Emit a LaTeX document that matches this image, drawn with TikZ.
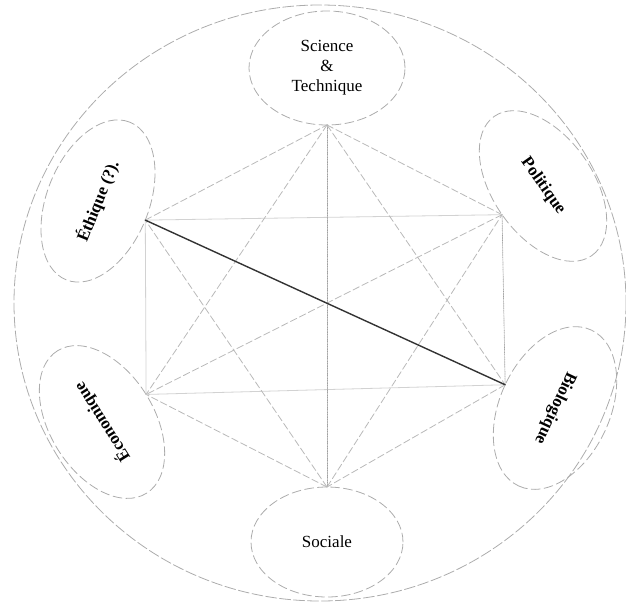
\documentclass[tikz,border=0pt]{standalone}
\usepackage{fontspec}
\setmainfont{Liberation Serif}
\usepackage{tikz}
\usetikzlibrary{arrows.meta,shapes.geometric}
\tikzset{
  every picture/.style={line join=round, line cap=round, >=Stealth},
  bulle/.style={ellipse, draw=gray!65, line width=0.8pt, dash pattern=on 9pt off 4pt,
    inner sep=0pt, outer sep=0pt, align=center, font=\fontsize{17}{20}\selectfont},
  bullegras/.style={bulle, font=\fontsize{17}{20}\selectfont\bfseries},
  lien/.style={gray!55, line width=0.8pt, dash pattern=on 7pt off 3pt},
  lienclair/.style={gray!35, line width=0.8pt},
  lienpoint/.style={gray!75, line width=0.7pt, densely dotted},
  lienfort/.style={black!80, line width=1.4pt},
}

\begin{document}
\begin{tikzpicture}[x=1pt,y=-1pt]
\useasboundingbox (0,0) rectangle (626,603);
% grand cercle
\draw[gray!65, line width=0.8pt, dash pattern=on 11pt off 3pt] (320,303) ellipse [x radius=306, y radius=298];
% les six domaines
\node[bulle, minimum width=156, minimum height=114] (sci) at (327,68) {Science\\\&\\Technique};
\node[bullegras, minimum width=170, minimum height=102, rotate=68] (eth) at (98,201) {Éthique (?).};
\node[bullegras, minimum width=170, minimum height=100, rotate=-55] (pol) at (543,186) {Politique};
\node[bullegras, minimum width=168, minimum height=104, rotate=122] (eco) at (102,422) {Économique};
\node[bullegras, minimum width=172, minimum height=110, rotate=-115] (bio) at (555,408) {Biologique};
\node[bulle, minimum width=152, minimum height=110] (soc) at (327,542) {Sociale};
% liens
\draw[lien] (sci.south)--(pol.south);
\draw[lienpoint] (pol.south)--(bio.south);
\draw[lien] (bio.south)--(soc.north);
\draw[lien] (soc.north)--(eco.south);
\draw[lienclair] (eco.south)--(eth.south);
\draw[lien] (eth.south)--(sci.south);
\draw[lienclair] (eth.south)--(pol.south);
\draw[lienclair] (eco.south)--(bio.south);
\draw[lienpoint] (sci.south)--(soc.north);
\draw[lien] (pol.south)--(eco.south);
\draw[lien] (sci.south)--(eco.south);
\draw[lien] (sci.south)--(bio.south);
\draw[lien] (soc.north)--(eth.south);
\draw[lien] (soc.north)--(pol.south);
\draw[lienfort] (eth.south)--(bio.south);
\end{tikzpicture}
\end{document}
